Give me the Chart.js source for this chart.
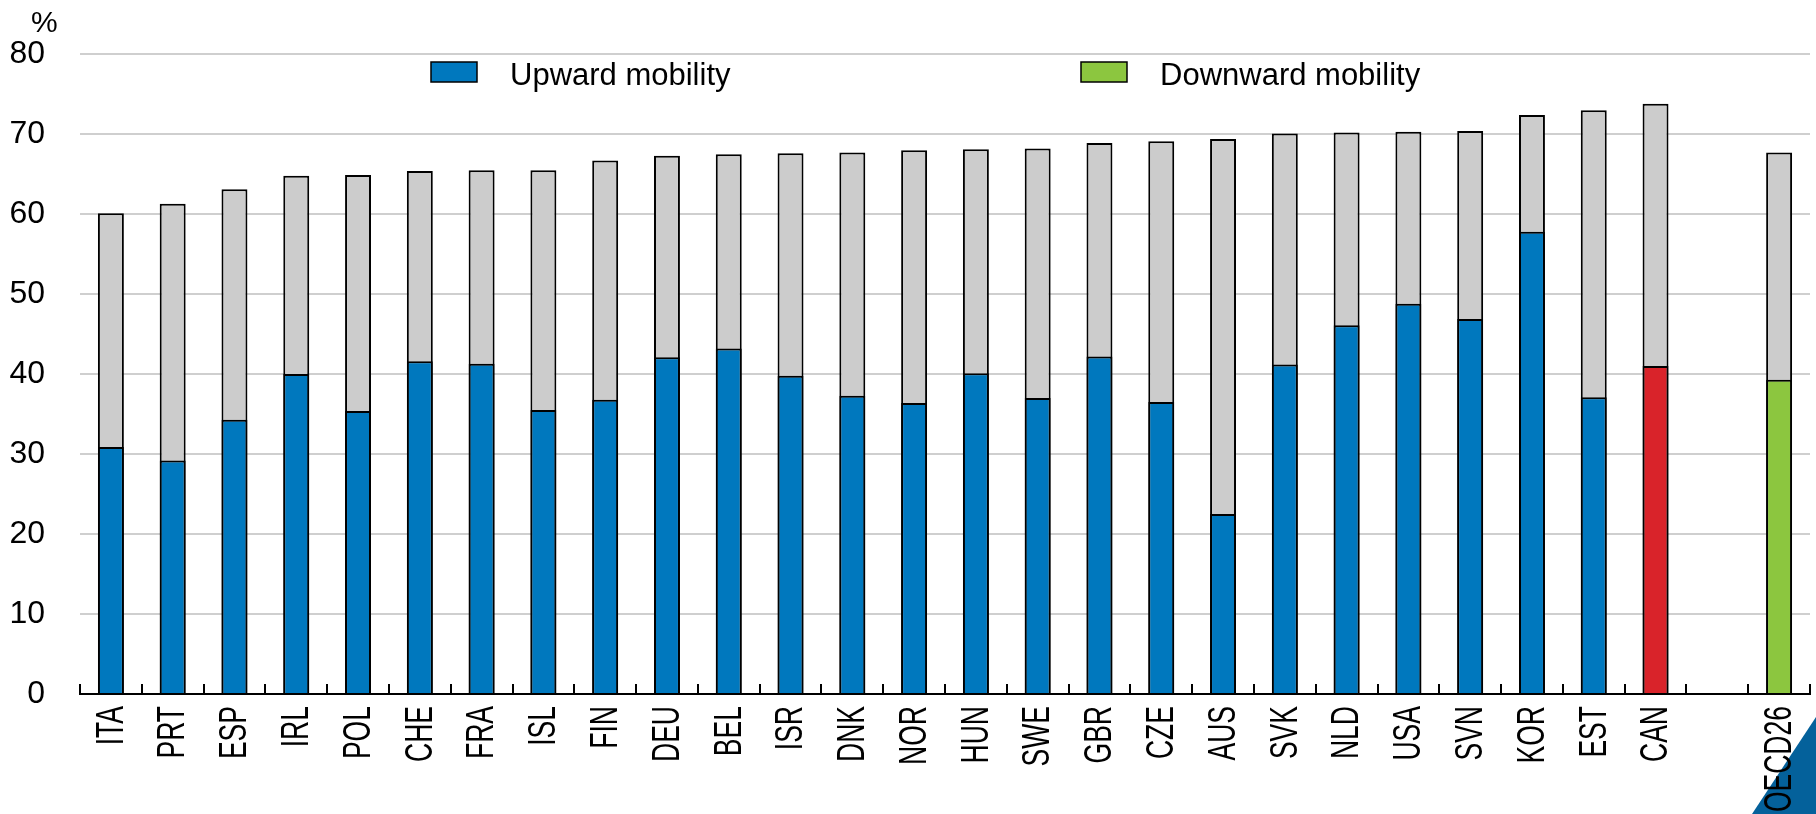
<!DOCTYPE html>
<html>
<head>
<meta charset="utf-8">
<style>
    body { margin: 0; background: #fff; }
    #wrap { width: 1816px; height: 814px; position: relative; }
</style>
<script src="https://cdn.jsdelivr.net/npm/chart.js"></script>
</head>
<body>
<div id="wrap"><canvas id="mobilityChart"></canvas></div>
<script>
    // values (%), one gap slot before the OECD average
    const countries = ['ITA', 'PRT', 'ESP', 'IRL', 'POL', 'CHE', 'FRA', 'ISL', 'FIN', 'DEU',
        'BEL', 'ISR', 'DNK', 'NOR', 'HUN', 'SWE', 'GBR', 'CZE', 'AUS', 'SVK',
        'NLD', 'USA', 'SVN', 'KOR', 'EST', 'CAN', '', 'OECD26'];
    const upward = [30.9, 29.2, 34.3, 40.0, 35.4, 41.6, 41.3, 35.5, 36.8, 42.1,
        43.2, 39.8, 37.3, 36.4, 40.1, 37.0, 42.2, 36.5, 22.5, 41.2,
        46.1, 48.8, 46.9, 57.8, 37.1, 41.0, null, 39.3];
    const total = [60.1, 61.3, 63.1, 64.8, 64.9, 65.4, 65.5, 65.5, 66.7, 67.3,
        67.5, 67.6, 67.7, 68.0, 68.1, 68.2, 68.9, 69.1, 69.4, 70.1,
        70.2, 70.3, 70.4, 72.4, 73.0, 73.8, null, 67.7];
    const legendLabels = ['Upward mobility', 'Downward mobility'];

    const BLUE = '#0078be';
    const RED = '#d9232a';
    const GREEN = '#8cc63f';
    const GREY = '#cccccc';
    const FONT = "'Liberation Sans', Arial, sans-serif";
    const legendColours = [BLUE, GREEN];

    const upwardColours = countries.map(c => c === 'CAN' ? RED : (c === 'OECD26' ? GREEN : BLUE));

    const decorations = {
        id: 'decorations',
        beforeDraw(chart) {
            const ctx = chart.ctx;
            // corner triangle
            ctx.save();
            ctx.fillStyle = '#04619b';
            ctx.beginPath();
            ctx.moveTo(1752, 814);
            ctx.lineTo(1816, 717);
            ctx.lineTo(1816, 814);
            ctx.closePath();
            ctx.fill();
            ctx.restore();
        },
        afterDraw(chart) {
            const ctx = chart.ctx;
            const xs = chart.scales.x;
            const area = chart.chartArea;
            ctx.save();

            // small upward ticks between categories
            ctx.strokeStyle = '#000';
            ctx.lineWidth = 2;
            const n = countries.length;
            for (let i = 0; i <= n; i++) {
                const x = Math.round(xs.left + i * (xs.width / n));
                ctx.beginPath();
                ctx.moveTo(x, area.bottom);
                ctx.lineTo(x, area.bottom - 10);
                ctx.stroke();
            }

            // category labels, rotated and condensed like the original
            ctx.fillStyle = '#000';
            ctx.font = '39px ' + FONT;
            ctx.textAlign = 'right';
            ctx.textBaseline = 'middle';
            countries.forEach((c, i) => {
                const x = xs.getPixelForValue(i);
                ctx.save();
                ctx.translate(x + 1, area.bottom + 12);
                ctx.rotate(-Math.PI / 2);
                ctx.scale(0.68, 1);
                ctx.fillText(c, 0, 0);
                ctx.restore();
            });

            // unit label
            ctx.font = '30px ' + FONT;
            ctx.textAlign = 'left';
            ctx.textBaseline = 'alphabetic';
            ctx.fillText('%', 31, 32);

            // legend
            const boxX = [431, 1081];
            const textX = [510, 1160];
            ctx.font = '31px ' + FONT;
            legendLabels.forEach((label, i) => {
                ctx.fillStyle = legendColours[i];
                ctx.fillRect(boxX[i], 62, 46, 20);
                ctx.strokeStyle = '#000';
                ctx.lineWidth = 1.5;
                ctx.strokeRect(boxX[i], 62, 46, 20);
                ctx.fillStyle = '#000';
                ctx.fillText(label, textX[i], 85);
            });
            ctx.restore();
        }
    };

    const data = {
        labels: countries,
        datasets: [
            {
                label: 'Upward mobility',
                data: upward,
                backgroundColor: upwardColours,
                borderColor: '#000',
                borderWidth: 2,
                order: 1
            },
            {
                label: 'Total',
                data: total,
                backgroundColor: GREY,
                borderColor: '#000',
                borderWidth: 2,
                order: 2
            }
        ]
    };

    const config = {
        type: 'bar',
        data: data,
        options: {
            responsive: true,
            maintainAspectRatio: false,
            animation: false,
            layout: { padding: { top: 52, right: 6, left: 0, bottom: 0 } },
            datasets: {
                bar: { barPercentage: 0.42, categoryPercentage: 1.0 }
            },
            plugins: {
                legend: { display: false },
                tooltip: { enabled: false }
            },
            scales: {
                x: {
                    stacked: true,
                    grid: { display: false },
                    border: { display: true, color: '#000', width: 2 },
                    ticks: { display: false, autoSkip: false },
                    afterFit(scale) { scale.height = 120; }
                },
                y: {
                    stacked: false,
                    min: 0,
                    max: 80,
                    grid: { color: '#cfcfcf', lineWidth: 2, drawTicks: false },
                    border: { display: false },
                    ticks: {
                        stepSize: 10,
                        padding: 35,
                        color: '#000',
                        font: { family: FONT, size: 32 }
                    },
                    afterFit(scale) { scale.width = 80; }
                }
            }
        },
        plugins: [decorations]
    };

    new Chart(document.getElementById('mobilityChart'), config);
</script>
</body>
</html>
